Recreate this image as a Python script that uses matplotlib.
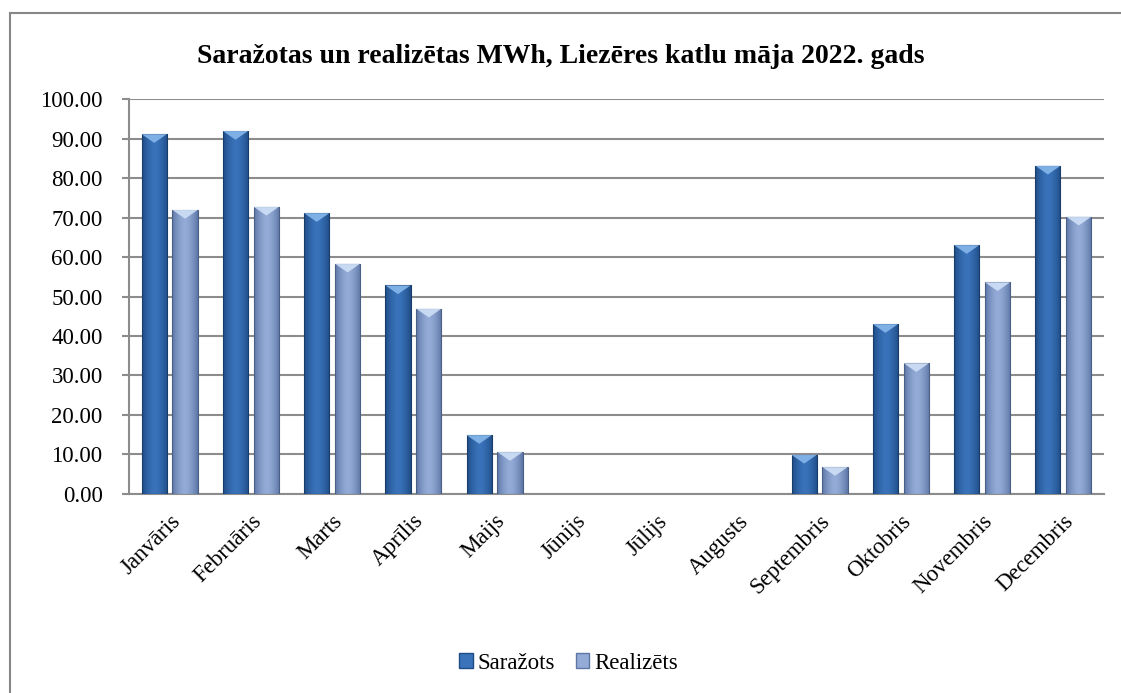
import numpy as np
import matplotlib
matplotlib.use("Agg")
import matplotlib.pyplot as plt
from matplotlib.patches import Rectangle, Polygon, Patch

# ── Data ──────────────────────────────────────────────────────────────────────
months = ["Janvāris", "Februāris", "Marts", "Aprīlis", "Maijs", "Jūnijs",
          "Jūlijs", "Augusts", "Septembris", "Oktobris", "Novembris", "Decembris"]
sarazots  = [91.1, 91.9, 71.1, 52.8, 14.9, 0, 0, 0, 9.9, 43.0, 63.0, 83.1]
realizets = [71.9, 72.7, 58.3, 46.9, 10.6, 0, 0, 0, 6.8, 33.1, 53.6, 70.2]

TITLE = "Saražotas un realizētas MWh, Liezēres katlu māja 2022. gads"
SERIES = ["Saražots", "Realizēts"]

# ── Style ─────────────────────────────────────────────────────────────────────
FONT = ["Liberation Serif", "DejaVu Serif"]
plt.rcParams["font.family"] = FONT
GRID = "#8C8C8C"
# (edge colour, centre colour, top chevron colour)
STYLE = {
    "Saražots":  ("#1F4C85", "#3A73BA", "#86B8EC"),
    "Realizēts": ("#5E76A6", "#93ABD6", "#CFE0F7"),
}
BAR_W = 0.31
OFFSET = 0.19


def draw_bar(ax, xc, h, colors):
    """Bar with a horizontal gradient and a lighter chevron at the top."""
    if h <= 0:
        return
    edge, centre, top = (np.array(matplotlib.colors.to_rgb(c)) for c in colors)
    t = np.abs(np.linspace(-1, 1, 64)) ** 1.6
    grad = (centre[None, :] * (1 - t[:, None]) + edge[None, :] * t[:, None])[None, :, :]
    x0, x1 = xc - BAR_W / 2, xc + BAR_W / 2
    im = ax.imshow(grad, extent=(x0, x1, 0, h), aspect="auto", zorder=3,
                   interpolation="bilinear")
    rect = Rectangle((x0, 0), BAR_W, h, facecolor="none", edgecolor=edge * 0.8,
                     linewidth=0.8, zorder=4)
    ax.add_patch(rect)
    im.set_clip_path(rect)
    d = min(2.2, h)
    ax.add_patch(Polygon([(x0, h), (x1, h), (xc, h - d)], closed=True,
                         facecolor=top, edgecolor="none", zorder=4, alpha=0.9))


fig = plt.figure(figsize=(11.21, 6.93), dpi=100)
ax = fig.add_axes([0.1151, 0.2872, 0.8697, 0.5699])

x = np.arange(len(months))
for xi, v in zip(x, sarazots):
    draw_bar(ax, xi - OFFSET, v, STYLE["Saražots"])
for xi, v in zip(x, realizets):
    draw_bar(ax, xi + OFFSET, v, STYLE["Realizēts"])

ax.set_xlim(-0.5, len(months) - 0.5)
ax.set_ylim(0, 100)
ax.set_yticks(np.arange(0, 101, 10))
ax.set_yticklabels([f"{v:.2f}" for v in range(0, 101, 10)], fontsize=16.5)
ax.set_xticks(x)
ax.set_xticklabels(months, rotation=45, ha="right", rotation_mode="anchor",
                   fontsize=16.5)
ax.tick_params(axis="x", length=0, pad=12)
ax.tick_params(axis="y", length=5, width=1.5, color=GRID, pad=14)

ax.yaxis.grid(True, color=GRID, linewidth=1.5)
ax.set_axisbelow(True)
for side in ("top", "right"):
    ax.spines[side].set_visible(False)
for side in ("left", "bottom"):
    ax.spines[side].set_color(GRID)
    ax.spines[side].set_linewidth(1.5)

fig.text(0.5, 0.918, TITLE, ha="center", va="center", fontsize=20,
         fontweight="bold")

handles = [Patch(facecolor=STYLE[s][1], edgecolor=STYLE[s][0]) for s in SERIES]
leg = fig.legend(handles, SERIES, loc="center", bbox_to_anchor=(0.507, 0.043),
                 ncol=2, frameon=False, fontsize=16.5,
                 handlelength=0.6, handleheight=0.6, handletextpad=0.2,
                 columnspacing=0.9)

# outer chart border
fig.patches.append(Rectangle((10 / 1121, -0.05), 1.2, 1.05 - 13 / 693,
                             transform=fig.transFigure, fill=False,
                             edgecolor="#878787", linewidth=1.5))

fig.savefig("out.png", dpi=100)
